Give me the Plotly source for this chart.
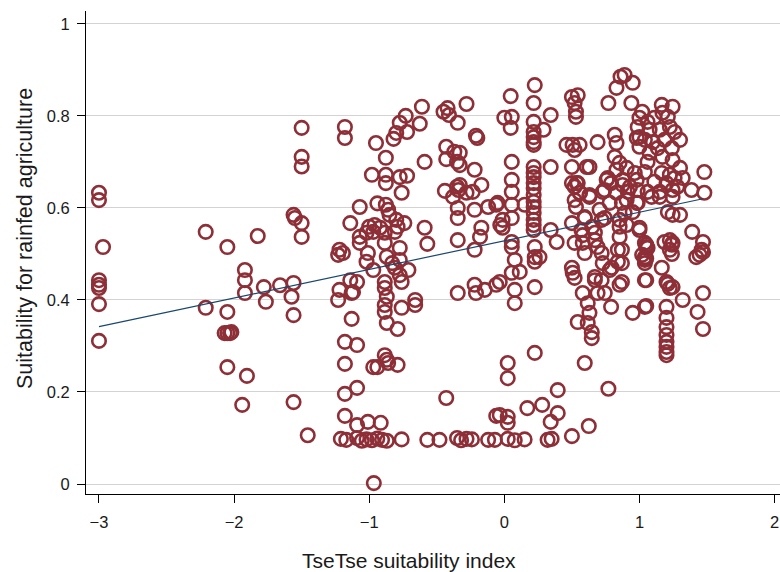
import plotly.graph_objects as go

# ---- data: (TseTse suitability index, suitability for rainfed agriculture) ----
west = [(-3.0,0.633),(-3.0,0.617),(-3.0,0.443),(-3.0,0.433),(-3.0,0.426),(-3.0,0.391),(-3.0,0.311),(-2.97,0.515),
        (-2.21,0.548),(-2.21,0.383),(-2.05,0.515),(-2.05,0.374),(-2.07,0.328),(-2.05,0.328),(-2.03,0.328),(-2.02,0.33),
        (-2.05,0.254),(-1.905,0.235),(-1.94,0.172),(-1.825,0.539),(-1.92,0.465),(-1.92,0.443),(-1.92,0.415),(-1.78,0.428),
        (-1.765,0.396),(-1.66,0.432),(-1.56,0.437),(-1.575,0.407),(-1.56,0.367),(-1.56,0.178),(-1.56,0.585),(-1.55,0.578),
        (-1.5,0.567),(-1.5,0.537),(-1.5,0.711),(-1.5,0.69),(-1.455,0.106),(-1.5,0.774)]

mid_upper = [(-1.18,0.776),(-1.18,0.752),(-0.95,0.741),(-0.877,0.709),(-0.98,0.672),(-0.877,0.672),(-0.877,0.654),
        (-0.774,0.667),(-0.72,0.67),(-0.76,0.633),(-0.8,0.763),(-0.774,0.785),(-0.73,0.8),(-0.72,0.765),(-0.82,0.75),
        (-0.626,0.783),(-0.61,0.82),(-0.59,0.7),(-0.45,0.809),(-0.42,0.817),(-0.41,0.802),(-0.345,0.785),(-0.28,0.826),
        (-0.21,0.757),(-0.2,0.752),(-0.43,0.733),(-0.43,0.706),(-0.37,0.722),(-0.33,0.72),(-0.35,0.7),(-0.33,0.693),
        (-0.22,0.683),(-0.44,0.637),(-0.35,0.646),(-0.33,0.65),(-0.34,0.639),(-0.38,0.624),(-0.28,0.633),(-0.234,0.635),
        (-0.17,0.65),(-0.345,0.6),(-0.345,0.578),(-0.22,0.596),(-0.12,0.602),(-0.06,0.607),(-0.17,0.557),(-0.18,0.537),
        (-0.22,0.509),(-0.345,0.53),(-0.59,0.557),(-0.57,0.522),(-0.03,0.563)]

mid_cluster = [(-1.07,0.602),(-0.94,0.61),(-0.877,0.607),(-0.86,0.596),(-0.85,0.585),(-1.14,0.567),(-1.0,0.559),
        (-0.96,0.563),(-0.92,0.557),(-0.8,0.574),(-0.74,0.567),(-1.07,0.537),(-1.02,0.546),(-0.97,0.548),(-0.885,0.546),
        (-0.81,0.548),(-0.79,0.559),(-1.07,0.524),(-0.885,0.524),(-0.774,0.513),(-1.22,0.509),(-1.195,0.502),(-1.23,0.498),
        (-1.01,0.502),(-1.02,0.483),(-0.87,0.494),(-0.83,0.48),(-0.774,0.487),(-0.97,0.465),(-0.81,0.47),(-0.774,0.454),
        (-0.71,0.465),(-1.14,0.443),(-1.09,0.439),(-0.885,0.439),(-0.885,0.426),(-0.76,0.439),(-1.22,0.422),(-1.12,0.417),
        (-0.87,0.407),(-0.345,0.415),(-0.22,0.433),(-0.21,0.415),(-0.145,0.422),(-0.06,0.433),(-0.66,0.4)]

mid_lower = [(-1.23,0.4),(-1.13,0.415),(-0.885,0.389),(-0.885,0.374),(-0.76,0.383),(-0.66,0.389),(-0.87,0.35),
        (-0.79,0.337),(-1.13,0.359),(-1.18,0.309),(-1.09,0.302),(-1.18,0.261),(-0.97,0.254),(-0.94,0.254),(-0.885,0.28),
        (-0.87,0.27),(-0.86,0.263),(-0.79,0.259),(-1.18,0.196),(-1.09,0.209),(-1.18,0.148),(-1.09,0.128),(-1.01,0.135),
        (-0.915,0.133),(-1.21,0.098),(-1.17,0.096),(-1.09,0.1),(-1.055,0.094),(-1.02,0.097),(-0.98,0.095),(-0.94,0.099),
        (-0.905,0.096),(-0.87,0.094),(-0.76,0.097),(-0.57,0.096),(-0.48,0.096),(-0.35,0.1),(-0.32,0.095),(-0.28,0.098),
        (-0.24,0.097),(-0.12,0.096),(-0.43,0.187),(-0.966,0.002),(-0.06,0.148)]

centre_upper = [(0.225,0.867),(0.047,0.843),(0.217,0.828),(0.5,0.841),(0.543,0.845),(0.52,0.828),(0.53,0.809),
        (0.53,0.798),(0.343,0.802),(0.0,0.796),(0.055,0.798),(0.047,0.774),(0.217,0.787),(0.29,0.77),(0.217,0.765),
        (0.217,0.754),(0.217,0.743),(0.217,0.737),(0.46,0.737),(0.505,0.737),(0.557,0.737),(0.52,0.726),(0.69,0.743),
        (0.77,0.828),(0.83,0.861),(0.86,0.885),(0.055,0.7),(0.343,0.689),(0.217,0.689),(0.217,0.676),(0.217,0.667),
        (0.217,0.654),(0.217,0.643),(0.217,0.628),(0.217,0.613),(0.217,0.602),(0.217,0.589),(0.217,0.574),(0.217,0.563),
        (0.217,0.552),(0.055,0.661),(0.055,0.635),(0.055,0.607),(0.055,0.578),(0.15,0.607),(-0.05,0.611),(-0.013,0.574),
        (-0.013,0.557),(0.055,0.526),(0.055,0.515),(0.343,0.552),(0.387,0.526),(0.5,0.689),(0.61,0.689),(0.5,0.654),
        (0.52,0.646),(0.543,0.654),(0.557,0.633),(0.52,0.617),(0.53,0.602),(0.63,0.628),(0.5,0.567),(0.595,0.58),
        (0.65,0.559),(0.72,0.574),(0.52,0.524),(0.67,0.53),(0.58,0.541),(0.74,0.639),(0.765,0.665),(0.225,0.515),
        (0.225,0.493),(0.26,0.493),(0.077,0.487),(0.225,0.483),(0.114,0.461),(0.055,0.459),(-0.034,0.439),(0.077,0.422),
        (0.225,0.428),(0.5,0.47),(0.52,0.448),(0.67,0.443),(0.72,0.502),(0.78,0.465)]

centre_lower = [(0.077,0.393),(0.025,0.263),(0.025,0.23),(0.225,0.285),(0.595,0.263),(0.395,0.204),(0.77,0.207),
        (0.543,0.352),(0.617,0.35),(0.647,0.33),(0.647,0.317),(0.617,0.393),(0.63,0.372),(0.95,0.372),(1.05,0.387),
        (0.79,0.385),(-0.034,0.15),(0.025,0.146),(0.025,0.133),(0.17,0.165),(0.28,0.172),(0.395,0.154),(0.343,0.135),
        (0.625,0.126),(0.5,0.104),(-0.07,0.096),(0.025,0.098),(0.077,0.095),(0.15,0.097),(0.32,0.096),(0.35,0.098)]

east = [(0.89,0.889),(0.95,0.872),(0.94,0.828),(1.165,0.824),(1.245,0.82),(1.17,0.807),(1.02,0.809),(1.0,0.796),
        (1.06,0.787),(1.11,0.796),(1.21,0.798),(0.987,0.776),(1.075,0.77),(1.15,0.77),(1.225,0.776),(1.26,0.765),
        (0.98,0.752),(1.04,0.748),(1.1,0.743),(1.185,0.748),(1.3,0.748),(1.0,0.733),(1.135,0.73),(1.24,0.73),
        (1.075,0.72),(1.17,0.711),(1.06,0.7),(1.245,0.704),(1.3,0.687),(1.48,0.678),(0.905,0.687),(0.965,0.676),
        (1.04,0.678),(1.165,0.676),(1.225,0.672),(1.26,0.665),(1.11,0.657),(1.2,0.654),(1.32,0.665),(0.875,0.65),
        (0.93,0.646),(0.987,0.639),(1.06,0.635),(1.15,0.635),(1.245,0.639),(1.28,0.646),(1.385,0.639),(1.48,0.633),
        (1.09,0.624),(1.15,0.624),(1.245,0.624),(0.987,0.611),(0.905,0.617),(0.95,0.591),(1.21,0.591),(1.245,0.585),
        (1.3,0.585),(1.0,0.552),(0.905,0.563),(1.225,0.53),(1.185,0.526),(1.245,0.524),(1.225,0.509),(1.04,0.524),
        (1.06,0.513),(1.04,0.493),(1.39,0.548),(1.47,0.526),(1.46,0.509),(1.42,0.493),(1.04,0.487),(0.87,0.509),
        (0.87,0.48),(1.165,0.47),(1.04,0.443),(0.87,0.439),(1.2,0.439),(1.225,0.426),(1.245,0.428),(1.32,0.4),
        (1.47,0.415),(1.04,0.385),(1.43,0.374),(1.47,0.337),(1.2,0.385),(1.2,0.361),(1.2,0.341),(1.2,0.324),
        (1.2,0.309),(1.2,0.298),(1.2,0.287),(1.2,0.28),(1.21,0.435),(1.445,0.498),(1.47,0.504),(1.05,0.515),
        (1.05,0.49),(1.24,0.52),(1.24,0.5)]

east_dense = [(0.83,0.741),(0.817,0.759),(1.0,0.754),(0.63,0.689),(0.817,0.711),(0.853,0.698),(0.83,0.683),
        (0.757,0.661),(0.79,0.654),(0.875,0.661),(0.98,0.661),(0.535,0.654),(0.56,0.633),(0.63,0.624),(0.728,0.635),
        (0.83,0.633),(0.913,0.635),(0.98,0.611),(0.78,0.611),(0.87,0.611),(0.705,0.596),(0.595,0.578),(0.743,0.578),
        (0.853,0.574),(0.853,0.559),(0.853,0.537),(0.89,0.589),(1.0,0.557),(0.57,0.552),(0.67,0.546),(0.58,0.524),
        (0.69,0.515),(0.595,0.502),(0.84,0.509),(1.05,0.52),(1.02,0.498),(0.728,0.48),(0.794,0.47),(0.84,0.483),
        (1.04,0.48),(0.506,0.459),(0.67,0.45),(0.72,0.443),(0.853,0.433),(1.05,0.443),(0.58,0.415),(0.69,0.415),
        (0.743,0.415)]

# linear fit line endpoints (as drawn in the original)
fit_x = [-3.0, 1.47]
fit_y = [0.342, 0.62]

x_ticks = [-3, -2, -1, 0, 1, 2]
y_ticks = [0, 0.2, 0.4, 0.6, 0.8, 1]
y_tick_labels = ["0", "0.2", "0.4", "0.6", "0.8", "1"]
x_title = "TseTse suitability index"
y_title = "Suitability for rainfed agriculture"

points = west + mid_upper + mid_cluster + mid_lower + centre_upper + centre_lower + east + east_dense
xs = [p[0] for p in points]
ys = [p[1] for p in points]

MARK = "#8e2f37"
FONT = "Liberation Sans, Arial, Helvetica, sans-serif"

fig = go.Figure()
fig.add_trace(go.Scatter(
    x=xs, y=ys, mode="markers",
    marker=dict(symbol="circle-open", size=13.5, color=MARK, line=dict(width=2.6, color=MARK)),
    showlegend=False,
))
fig.add_trace(go.Scatter(
    x=fit_x, y=fit_y, mode="lines",
    line=dict(color="#1a476f", width=1.2),
    showlegend=False,
))

fig.update_layout(
    width=780, height=572,
    margin=dict(l=86, r=0, t=11, b=78),
    paper_bgcolor="white", plot_bgcolor="white",
    font=dict(family=FONT, size=16.5, color="#1a1a1a"),
    xaxis=dict(
        range=[-3.096, 2.04], tickvals=x_ticks,
        showline=True, linecolor="black", linewidth=1,
        ticks="outside", ticklen=8, tickcolor="black", tickwidth=1,
        showgrid=False, zeroline=False,
        ticklabelstandoff=5,
        automargin=False,
    ),
    yaxis=dict(
        range=[-0.0217, 1.028], tickvals=y_ticks, ticktext=y_tick_labels,
        showline=True, linecolor="black", linewidth=1,
        ticks="outside", ticklen=8, tickcolor="black", tickwidth=1,
        showgrid=True, gridcolor="#d3d3d3", gridwidth=1, zeroline=False,
        ticklabelstandoff=4,
        automargin=False,
    ),
    annotations=[
        dict(text=x_title, xref="paper", yref="paper", x=0.4654, y=-0.1375,
             xanchor="center", yanchor="middle", showarrow=False, font=dict(size=21)),
        dict(text=y_title, xref="paper", yref="paper", x=-0.0879, y=0.530, textangle=-90,
             xanchor="center", yanchor="middle", showarrow=False, font=dict(size=21.5)),
    ],
)

fig.write_html("out.html", config={"displayModeBar": False},
               post_script="document.body.style.margin='0';document.body.style.overflow='hidden';")
